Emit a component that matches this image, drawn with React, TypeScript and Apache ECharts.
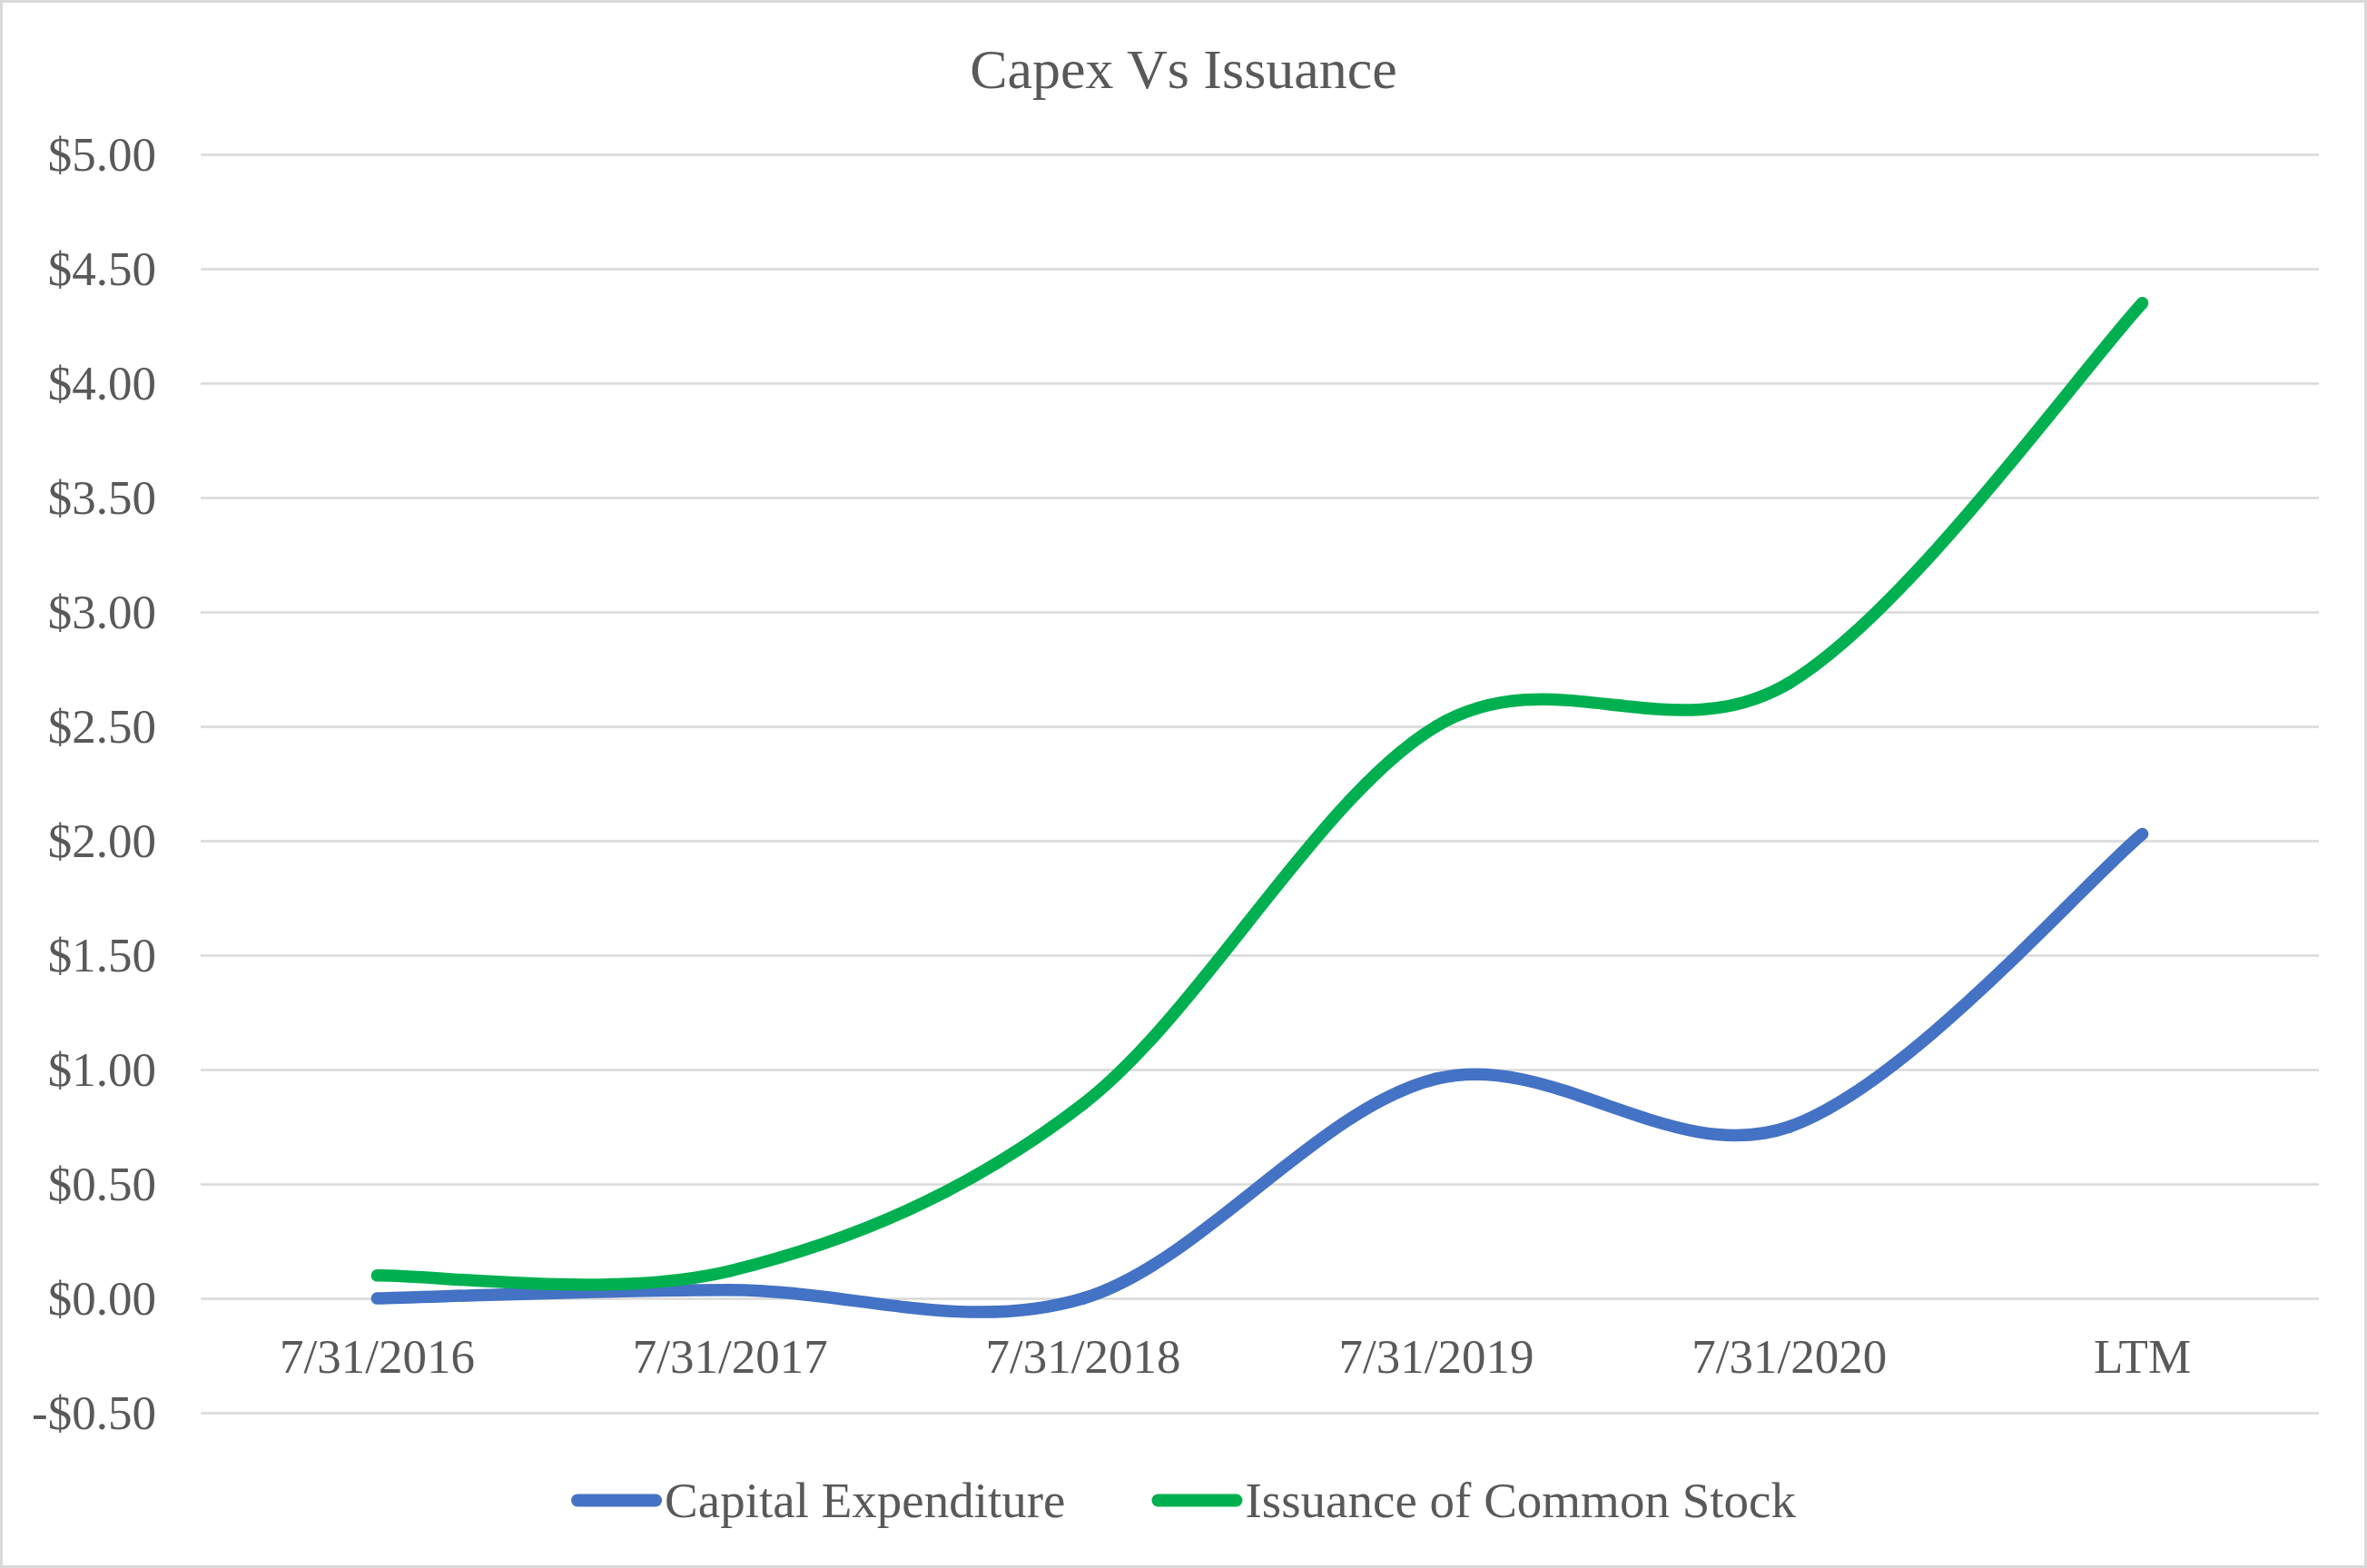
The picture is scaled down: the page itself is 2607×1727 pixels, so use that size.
import React, { useEffect, useRef } from "react";
import * as echarts from "echarts";

const categories = ["7/31/2016", "7/31/2017", "7/31/2018", "7/31/2019", "7/31/2020", "LTM"];
const capexValues = [0.0, 0.037, 0.0, 0.96, 0.75, 2.03];
const issuanceValues = [0.1, 0.12, 0.85, 2.5, 2.69, 4.35];
const seriesNames = ["Capital Expenditure", "Issuance of Common Stock"];
const seriesColors = ["#4472C4", "#00B050"];
const titleText = "Capex Vs Issuance";

const FONT = "'Liberation Serif', 'Times New Roman', serif";
const TEXT = "#595959";

const fmt = (v: number) => (v < 0 ? "-$" + Math.abs(v).toFixed(2) : "$" + v.toFixed(2));

// Excel-like smoothed line: each segment is a cubic Bezier (Catmull-Rom, 1/6 tangents),
// with every point placed through the chart's own scales (api.coord).
function smoothSeries(name: string, values: number[], color: string) {
  const n = values.length;
  return {
    name,
    type: "custom",
    data: values.map((v, i) => [i, v]),
    encode: { x: 0, y: 1 },
    itemStyle: { color },
    clip: false,
    renderItem: (params: any, api: any) => {
      const i = params.dataIndex;
      if (i >= n - 1) return { type: "group", children: [] };
      const pt = (k: number) => {
        const kk = Math.max(0, Math.min(n - 1, k));
        return api.coord([kk, values[kk]]);
      };
      const p0 = pt(i - 1);
      const p1 = pt(i);
      const p2 = pt(i + 1);
      const p3 = pt(i + 2);
      return {
        type: "bezierCurve",
        shape: {
          x1: p1[0],
          y1: p1[1],
          cpx1: p1[0] + (p2[0] - p0[0]) / 6,
          cpy1: p1[1] + (p2[1] - p0[1]) / 6,
          cpx2: p2[0] - (p3[0] - p1[0]) / 6,
          cpy2: p2[1] - (p3[1] - p1[1]) / 6,
          x2: p2[0],
          y2: p2[1],
        },
        style: { fill: "none", stroke: color, lineWidth: 13.5, lineCap: "round", lineJoin: "round" },
      };
    },
  };
}

export default function App() {
  const ref = useRef<HTMLDivElement>(null);
  useEffect(() => {
    document.body.style.margin = "0";
    const chart = echarts.init(ref.current!, null, { renderer: "svg" });
    const capsule = "path://M7,0 H93 A7,7 0 0 1 93,14 H7 A7,7 0 0 1 7,0 Z";
    chart.setOption({
      animation: false,
      backgroundColor: "#ffffff",
      textStyle: { fontFamily: FONT },
      title: {
        text: titleText,
        left: "center",
        top: 40,
        textStyle: { fontFamily: FONT, fontSize: 62, fontWeight: "normal", color: TEXT },
      },
      grid: { left: 221, right: 53, top: 170, bottom: 171, containLabel: false },
      legend: {
        bottom: 42,
        left: "center",
        itemWidth: 100,
        itemHeight: 14,
        itemGap: 95,
        textStyle: { fontFamily: FONT, fontSize: 55, color: TEXT, padding: [0, 0, 0, -2] },
        data: [
          { name: seriesNames[0], icon: capsule, itemStyle: { color: seriesColors[0] } },
          { name: seriesNames[1], icon: capsule, itemStyle: { color: seriesColors[1] } },
        ],
      },
      xAxis: {
        type: "category",
        data: categories,
        boundaryGap: true,
        axisLine: { show: false, onZero: false },
        axisTick: { show: false },
        axisLabel: { fontFamily: FONT, fontSize: 53, color: TEXT, margin: -89 },
      },
      yAxis: {
        type: "value",
        min: -0.5,
        max: 5,
        interval: 0.5,
        axisLine: { show: false },
        axisTick: { show: false },
        axisLabel: { fontFamily: FONT, fontSize: 53, color: TEXT, margin: 49, formatter: fmt },
        splitLine: { lineStyle: { color: "#d9d9d9", width: 2.5 } },
      },
      series: [
        smoothSeries(seriesNames[0], capexValues, seriesColors[0]),
        smoothSeries(seriesNames[1], issuanceValues, seriesColors[1]),
      ],
      graphic: [
        {
          type: "rect",
          shape: { x: 1.5, y: 1.5, width: 2604, height: 1724 },
          style: { fill: "none", stroke: "#d9d9d9", lineWidth: 3 },
          silent: true,
        },
      ],
    });
    return () => chart.dispose();
  }, []);
  return <div ref={ref} style={{ width: 2607, height: 1727 }} />;
}
